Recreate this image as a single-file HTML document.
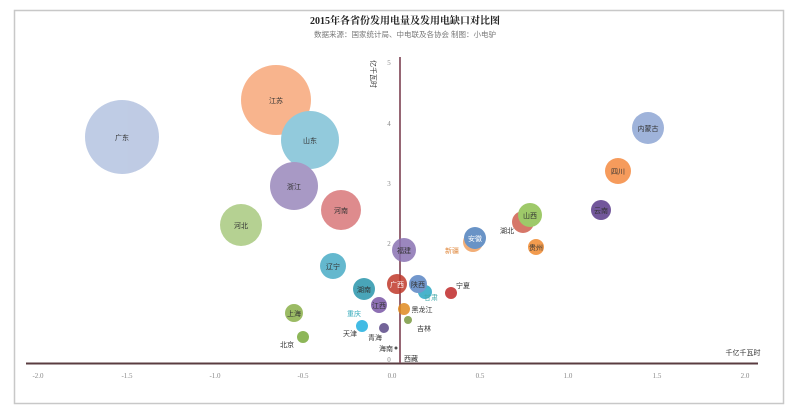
<!DOCTYPE html>
<html><head><meta charset="utf-8"><style>
body{margin:0;background:#fff;}
svg{display:block;font-family:"Liberation Sans","Noto Sans CJK SC",sans-serif;}
</style></head><body>
<svg width="796" height="410" viewBox="0 0 796 410">
<rect x="14.5" y="10.5" width="769" height="393" fill="#fff" stroke="#c8c8c8" stroke-width="1.5"/>
<text x="405" y="24" text-anchor="middle" font-size="10" font-weight="bold" fill="#222" font-family="Liberation Serif,Noto Serif CJK SC,serif">2015年各省份发用电量及发用电缺口对比图</text>
<text x="405" y="37" text-anchor="middle" font-size="7.5" fill="#777">数据来源：国家统计局、中电联及各协会 制图：小电驴</text>
<!-- axes -->
<line x1="26" y1="363.5" x2="758" y2="363.5" stroke="#5a3c40" stroke-width="2"/>
<line x1="400" y1="57" x2="400" y2="363" stroke="#8a5565" stroke-width="1.8"/>
<g font-size="7" fill="#888" text-anchor="middle" font-family="Liberation Serif,serif">
<text x="38" y="378">-2.0</text><text x="127" y="378">-1.5</text><text x="215" y="378">-1.0</text><text x="303" y="378">-0.5</text><text x="392" y="378">0.0</text><text x="480" y="378">0.5</text><text x="568" y="378">1.0</text><text x="657" y="378">1.5</text><text x="745" y="378">2.0</text>
<text x="389" y="65">5</text><text x="389" y="126">4</text><text x="389" y="186">3</text><text x="389" y="246">2</text><text x="389" y="362">0</text>
</g>
<text transform="translate(371,60) rotate(90)" font-size="7" fill="#333">亿千瓦时</text>
<text x="743" y="355" font-size="7" fill="#333" text-anchor="middle">千亿千瓦时</text>
<!-- bubbles -->
<g opacity="0.85">
<circle cx="122" cy="137" r="37" fill="#b4c3e0"/>
<circle cx="276" cy="100" r="35" fill="#f7a77a"/>
<circle cx="310" cy="140" r="29" fill="#7fc1d6"/>
<circle cx="294" cy="186" r="24" fill="#9a88bb"/>
<circle cx="341" cy="210" r="20" fill="#d9777a"/>
<circle cx="241" cy="225" r="21" fill="#a9c97f"/>
<circle cx="404" cy="250" r="12" fill="#8a73b3"/>
<circle cx="333" cy="266" r="13" fill="#4aacc6"/>
<circle cx="364" cy="289" r="11" fill="#2a96ac"/>
<circle cx="397" cy="284" r="10" fill="#c0392b"/>
<circle cx="425" cy="292" r="7" fill="#2aa6c4"/>
<circle cx="418" cy="284" r="9" fill="#5a86c4"/>
<circle cx="379" cy="305" r="8" fill="#7a56a6"/>
<circle cx="294" cy="313" r="9" fill="#8ab04a"/>
<circle cx="362" cy="326" r="6" fill="#22b0e0"/>
<circle cx="384" cy="328" r="5" fill="#5b4a88"/>
<circle cx="303" cy="337" r="6" fill="#7aaa3c"/>
<circle cx="396" cy="348" r="1.5" fill="#333"/>
<circle cx="404" cy="309" r="6" fill="#e08a20"/>
<circle cx="408" cy="320" r="4" fill="#7a9a40"/>
<circle cx="451" cy="293" r="6" fill="#c02a2a"/>
<circle cx="473" cy="242" r="10" fill="#f0a060"/>
<circle cx="475" cy="238" r="11" fill="#4f81bd"/>
<circle cx="523" cy="222" r="11" fill="#d06050"/>
<circle cx="530" cy="215" r="12" fill="#8ec050"/>
<circle cx="536" cy="247" r="8" fill="#f08a30"/>
<circle cx="601" cy="210" r="10" fill="#5a3a8a"/>
<circle cx="618" cy="171" r="13" fill="#f58a40"/>
<circle cx="648" cy="128" r="16" fill="#8ea6d4"/>
</g>
<g font-size="7" fill="#333" text-anchor="middle">
<text x="122" y="140">广东</text><text x="276" y="103">江苏</text><text x="310" y="143">山东</text>
<text x="294" y="189">浙江</text><text x="341" y="213">河南</text><text x="241" y="228">河北</text>
<text x="404" y="253">福建</text><text x="333" y="269">辽宁</text><text x="364" y="292">湖南</text>
<text x="397" y="287" fill="#fff">广西</text><text x="418" y="287">陕西</text><text x="431" y="300" fill="#4aa">甘肃</text>
<text x="379" y="308">江西</text><text x="294" y="316">上海</text><text x="354" y="316" fill="#3ab">重庆</text>
<text x="350" y="336">天津</text><text x="375" y="340">青海</text><text x="287" y="347">北京</text>
<text x="386" y="351">海南</text><text x="411" y="361">西藏</text><text x="422" y="312">黑龙江</text>
<text x="424" y="331">吉林</text><text x="463" y="288">宁夏</text><text x="452" y="253" fill="#e08a40">新疆</text>
<text x="475" y="241" fill="#fff">安徽</text><text x="507" y="233">湖北</text><text x="530" y="218">山西</text>
<text x="536" y="250">贵州</text><text x="601" y="213">云南</text><text x="618" y="174">四川</text><text x="648" y="131">内蒙古</text>
</g>
</svg>
</body></html>
